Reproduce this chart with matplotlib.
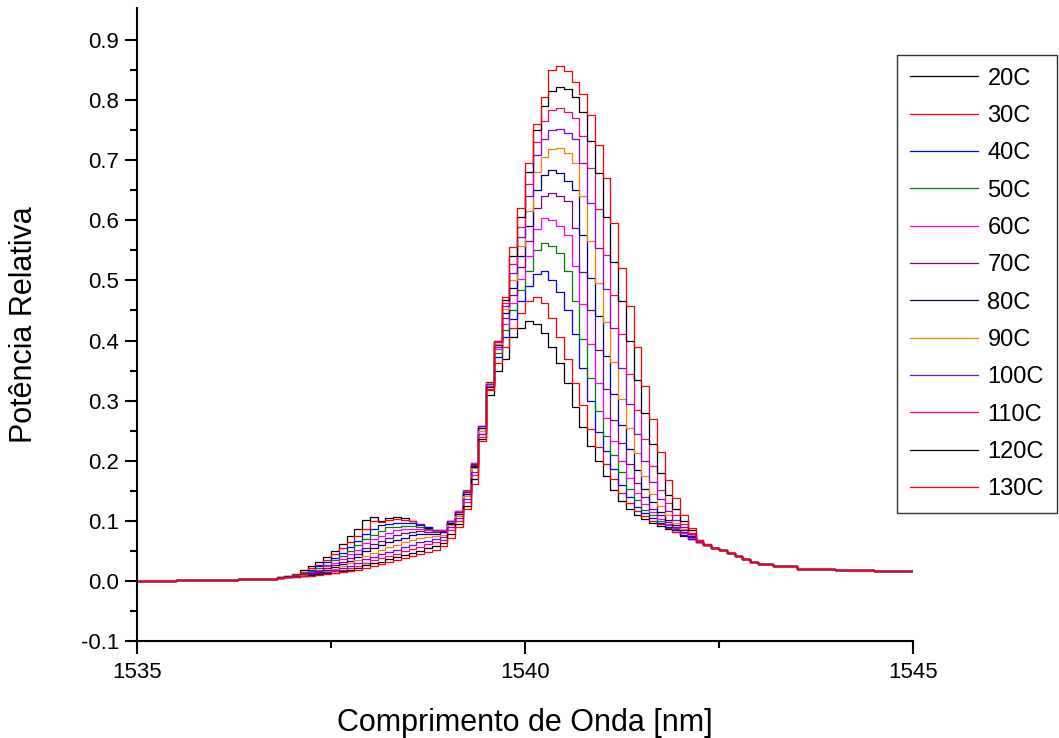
"""
Relative power spectra vs wavelength for temperatures 20C..130C.
"""

import numpy as np
import matplotlib
matplotlib.use("Agg")
import matplotlib.pyplot as plt

plt.rcParams["font.family"] = ["Liberation Sans", "DejaVu Sans"]
plt.rcParams["axes.unicode_minus"] = False

# dense wavelength grid (nm), 0.1 nm resolution of the spectrum analyser
wl = np.round(np.arange(1536.8, 1542.35, 0.1), 1)

# flat tails shared by all curves
tail_left_x = [1535.0, 1535.5, 1536.0, 1536.3, 1536.6]
tail_left_y = [0.000, 0.001, 0.002, 0.003, 0.004]
tail_right_x = [1542.4, 1542.5, 1542.6, 1542.7, 1542.8, 1542.9, 1543.0,
                1543.2, 1543.5, 1544.0, 1544.5, 1545.0]
tail_right_y = [0.055, 0.051, 0.046, 0.041, 0.036, 0.032, 0.028,
                0.024, 0.020, 0.018, 0.017, 0.017]

labels = ["20C", "30C", "40C", "50C", "60C", "70C",
          "80C", "90C", "100C", "110C", "120C", "130C"]
colors = ["#000000", "#ff0000", "#0000ff", "#008000", "#ff00ff", "#800080",
          "#000080", "#ff8000", "#8000ff", "#ff0080", "#000000", "#ff0000"]

t20 = [.006, .009, .012, .018, .024, .032, .040, .050, .062, .074, .086, .102, .106, .100,
       .105, .107, .105, .100, .094, .088, .083, .082, .095, .112, .145, .190, .245, .310,
       .350, .370, .405, .420, .433, .428, .413, .390, .362, .330, .290, .256, .225, .200,
       .175, .152, .133, .120, .110, .103, .097, .092, .087, .081, .075, .069, .064, .060]
t30 = [.006, .008, .011, .015, .021, .027, .035, .044, .054, .064, .075, .087, .100, .098,
       .101, .103, .102, .099, .094, .089, .084, .083, .097, .114, .148, .193, .250, .318,
       .362, .390, .420, .445, .465, .472, .462, .437, .405, .370, .330, .292, .253, .222,
       .195, .170, .147, .130, .117, .108, .100, .094, .088, .082, .076, .069, .064, .060]
t40 = [.006, .008, .010, .014, .018, .024, .031, .038, .047, .057, .067, .078, .086, .093,
       .094, .096, .097, .096, .093, .089, .085, .085, .099, .116, .150, .196, .254, .324,
       .372, .405, .435, .465, .490, .510, .515, .500, .480, .450, .410, .355, .300, .247,
       .216, .187, .160, .140, .123, .113, .104, .096, .090, .084, .077, .070, .064, .060]
t50 = [.006, .007, .010, .013, .016, .021, .027, .034, .041, .050, .059, .070, .077, .083,
       .089, .090, .091, .091, .090, .087, .084, .085, .100, .117, .151, .197, .257, .328,
       .380, .418, .450, .484, .515, .550, .563, .558, .545, .515, .465, .403, .338, .283,
       .241, .209, .181, .153, .134, .118, .109, .099, .093, .086, .079, .071, .065, .060]
t60 = [.005, .007, .009, .012, .015, .019, .024, .030, .036, .044, .052, .063, .069, .075,
       .080, .084, .086, .087, .087, .085, .083, .085, .100, .117, .150, .197, .258, .330,
       .386, .428, .463, .503, .540, .585, .603, .600, .590, .575, .524, .460, .395, .330,
       .271, .233, .200, .172, .146, .128, .114, .103, .095, .088, .080, .072, .065, .060]
t70 = [.005, .007, .009, .011, .014, .017, .021, .026, .032, .038, .045, .055, .061, .067,
       .072, .076, .080, .082, .083, .082, .081, .083, .099, .115, .148, .195, .257, .331,
       .390, .437, .476, .522, .565, .620, .640, .645, .640, .632, .588, .514, .450, .384,
       .320, .267, .229, .194, .163, .139, .120, .109, .098, .090, .082, .073, .065, .060]
t80 = [.005, .006, .008, .010, .013, .015, .019, .023, .028, .033, .039, .049, .054, .059,
       .064, .068, .072, .076, .078, .078, .078, .081, .097, .112, .145, .192, .254, .330,
       .393, .445, .488, .540, .590, .650, .675, .683, .678, .665, .650, .576, .504, .440,
       .374, .311, .259, .219, .184, .153, .132, .115, .102, .093, .084, .074, .066, .060]
t90 = [.005, .006, .008, .010, .012, .014, .017, .020, .024, .029, .034, .042, .047, .051,
       .056, .060, .064, .068, .071, .073, .074, .077, .093, .108, .141, .188, .250, .329,
       .395, .452, .500, .557, .615, .680, .705, .718, .720, .712, .695, .640, .565, .495,
       .430, .364, .303, .255, .212, .175, .144, .124, .109, .097, .086, .076, .066, .060]
t100 = [.005, .006, .008, .009, .011, .013, .015, .018, .021, .025, .029, .036, .040, .044,
        .048, .052, .056, .060, .064, .067, .069, .073, .089, .104, .136, .182, .245, .327,
        .397, .458, .513, .573, .640, .708, .735, .750, .752, .745, .735, .695, .629, .554,
        .485, .420, .354, .295, .245, .200, .164, .137, .117, .102, .089, .078, .067, .060]
t110 = [.005, .006, .007, .009, .010, .012, .014, .016, .019, .022, .025, .030, .034, .038,
        .041, .045, .049, .053, .057, .061, .064, .068, .084, .099, .131, .176, .240, .325,
        .398, .463, .527, .589, .660, .730, .765, .783, .787, .780, .770, .740, .687, .618,
        .543, .476, .410, .345, .285, .236, .192, .152, .129, .110, .094, .080, .067, .060]
t120 = [.005, .006, .007, .008, .010, .011, .013, .014, .017, .019, .022, .026, .029, .032,
        .036, .039, .043, .046, .050, .054, .058, .063, .078, .094, .125, .169, .236, .322,
        .399, .468, .540, .605, .680, .750, .790, .815, .822, .818, .805, .780, .732, .678,
        .606, .531, .466, .400, .335, .280, .228, .179, .143, .120, .100, .084, .068, .061]
t130 = [.005, .006, .007, .008, .009, .010, .012, .013, .015, .017, .019, .022, .025, .028,
        .032, .035, .038, .041, .044, .048, .052, .058, .072, .090, .120, .162, .232, .320,
        .400, .472, .555, .620, .695, .760, .805, .850, .857, .848, .830, .810, .775, .725,
        .670, .595, .520, .457, .390, .325, .270, .215, .168, .138, .110, .088, .068, .061]

series = [t20, t30, t40, t50, t60, t70, t80, t90, t100, t110, t120, t130]

fig = plt.figure(figsize=(10.59, 7.38), dpi=100)
ax = fig.add_axes([0.1294, 0.1314, 0.7327, 0.8576])

x_all = np.concatenate([tail_left_x, wl, tail_right_x])
for vals, lab, col in zip(series, labels, colors):
    y_all = np.concatenate([tail_left_y, vals, tail_right_y])
    ax.plot(x_all, y_all, drawstyle="steps-post", color=col, lw=0.9, label=lab)

ax.set_xlim(1535, 1545)
ax.set_ylim(-0.1, 0.953)
ax.set_xticks([1535, 1540, 1545])
ax.set_xticks([1537.5, 1542.5], minor=True)
ax.set_yticks(np.round(np.arange(-0.1, 0.95, 0.1), 1))
ax.set_yticks(np.round(np.arange(-0.05, 0.95, 0.1), 2), minor=True)
ax.yaxis.set_major_formatter(matplotlib.ticker.FormatStrFormatter("%.1f"))

for side in ["top", "right"]:
    ax.spines[side].set_visible(False)
for side in ["left", "bottom"]:
    ax.spines[side].set_linewidth(1.5)

ax.tick_params(which="major", direction="out", length=9, width=1.5, labelsize=16, pad=4)
ax.tick_params(axis="x", which="major", pad=6)
ax.tick_params(which="minor", direction="out", length=5, width=1.5)

ax.set_xlabel("Comprimento de Onda [nm]", fontsize=22, labelpad=18)
ax.set_ylabel("Potência Relativa", fontsize=22, labelpad=30)

leg = fig.legend(loc="upper left", bbox_to_anchor=(0.847, 0.926),
                 fontsize=17, frameon=True, fancybox=False, edgecolor="black",
                 handlelength=2.9, handletextpad=0.38, labelspacing=0.65,
                 borderpad=0.55, borderaxespad=0.0)
leg.get_frame().set_linewidth(1.0)

fig.savefig("out.png", dpi=100)
